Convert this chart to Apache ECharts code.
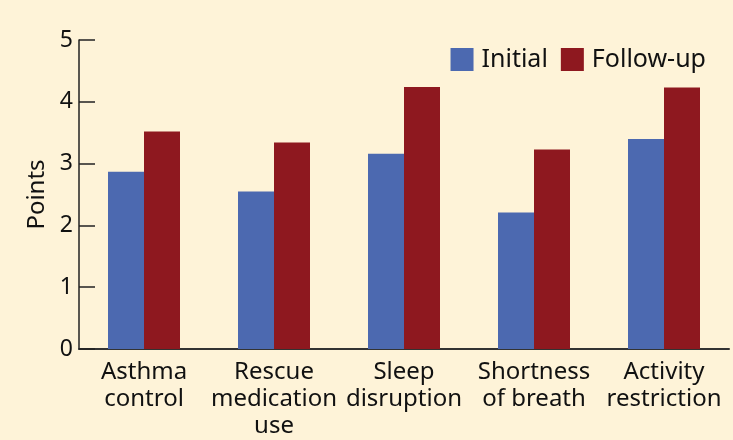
<!DOCTYPE html>
<html>
<head>
<meta charset="utf-8">
<script src="https://cdn.jsdelivr.net/npm/echarts@6/dist/echarts.min.js"></script>
<style>
html,body{margin:0;padding:0;background:#FEF3D8;}
#chart{width:733px;height:440px;}
</style>
</head>
<body>
<div id="chart"></div>
<script>
const categories = ["Asthma\ncontrol", "Rescue\nmedication\nuse", "Sleep\ndisruption", "Shortness\nof breath", "Activity\nrestriction"];
const initialValues = [2.87, 2.55, 3.16, 2.21, 3.40];
const followUpValues = [3.52, 3.34, 4.24, 3.23, 4.23];
const yTicks = [0, 1, 2, 3, 4, 5];

const chart = echarts.init(document.getElementById('chart'));
const font = '"Noto Sans", "Open Sans", sans-serif';
chart.setOption({
  backgroundColor: '#FEF3D8',
  animation: false,
  textStyle: { fontFamily: font },
  grid: { left: 79, right: 4, top: 40, bottom: 90, containLabel: false },
  legend: {
    right: 22, top: 42,
    itemWidth: 23, itemHeight: 23, itemGap: 13,
    icon: 'rect',
    textStyle: { fontSize: 25, color: '#111', fontFamily: font, padding: [0, 0, 0, 3] },
    data: ['Initial', 'Follow-up']
  },
  xAxis: {
    type: 'category',
    data: categories,
    axisLine: { lineStyle: { color: '#333', width: 2 } },
    axisTick: { show: false },
    axisLabel: { fontSize: 24, color: '#111', lineHeight: 27, margin: 10, interval: 0, fontFamily: font }
  },
  yAxis: {
    type: 'value',
    min: yTicks[0], max: yTicks[yTicks.length - 1], interval: 1,
    name: 'Points',
    nameLocation: 'middle',
    nameGap: 29,
    nameTextStyle: { fontSize: 24, color: '#111', fontFamily: font },
    axisLine: { show: true, lineStyle: { color: '#222', width: 1.5 } },
    axisTick: { show: true, inside: true, length: 16, lineStyle: { color: '#222', width: 1.5 } },
    axisLabel: { fontSize: 23, color: '#111', margin: 6, fontFamily: font },
    splitLine: { show: false }
  },
  series: [
    { name: 'Initial', type: 'bar', data: initialValues, barWidth: 36, barGap: '0%', itemStyle: { color: '#4C69B0' } },
    { name: 'Follow-up', type: 'bar', data: followUpValues, barWidth: 36, barGap: '0%', itemStyle: { color: '#8E181F' } }
  ]
});
</script>
</body>
</html>
